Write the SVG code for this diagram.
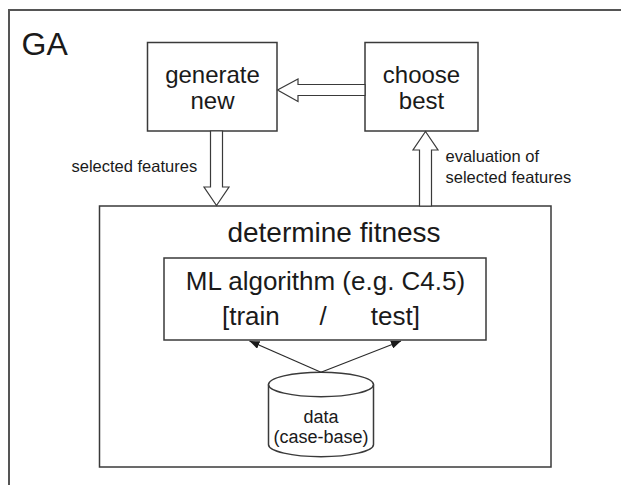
<svg xmlns="http://www.w3.org/2000/svg" width="621" height="485" viewBox="0 0 621 485">
<style>
.box{fill:#fff;stroke:#3a3a3a;stroke-width:1.5}
.blk{fill:#fff;stroke:#3a3a3a;stroke-width:1.2;stroke-linejoin:miter}
.t{font-family:"Liberation Sans",Arial,sans-serif;fill:#1a1a1a}
.c{text-anchor:middle}
.ln{stroke:#2a2a2a;stroke-width:1.1;fill:none}
</style>
<defs>
<marker id="ah" viewBox="0 0 10 8" refX="10" refY="4" markerWidth="10" markerHeight="8" markerUnits="userSpaceOnUse" orient="auto">
<path d="M0,0 L10,4 L0,8 Z" fill="#1a1a1a"/>
</marker>
</defs>
<rect width="621" height="485" fill="#fff"/>
<g id="frame">
<path d="M9,485 V10 H621" fill="none" stroke="#555" stroke-width="2"/>
<text class="t" x="21.5" y="55" font-size="32">GA</text>
</g>
<g id="generate">
<rect class="box" x="147.5" y="42.5" width="129.5" height="88.5"/>
<text class="t c" x="212.5" y="83" font-size="24">generate</text>
<text class="t c" x="212.5" y="109" font-size="24">new</text>
</g>
<g id="choose">
<rect class="box" x="365" y="42.5" width="113" height="88.5"/>
<text class="t c" x="421.5" y="83" font-size="24">choose</text>
<text class="t c" x="421.5" y="109" font-size="24">best</text>
</g>
<g id="fitness">
<rect class="box" x="99.5" y="206" width="451.5" height="261"/>
<text class="t c" x="334" y="242" font-size="28">determine fitness</text>
</g>
<g id="ml">
<rect class="box" x="164" y="258" width="322" height="82"/>
<text class="t c" x="325.5" y="290" font-size="26">ML algorithm (e.g. C4.5)</text>
<text class="t" x="222" y="325" font-size="26">[train</text>
<text class="t c" x="323" y="325" font-size="26">/</text>
<text class="t" x="420" y="325" font-size="26" text-anchor="end">test]</text>
</g>
<g id="data">
<path class="box" d="M268.5,384.5 V444.5 A52.5,12.2 0 0 0 373.5,444.5 V384.5"/>
<ellipse class="box" cx="321" cy="384.5" rx="52.5" ry="12.2"/>
<text class="t c" x="321" y="423" font-size="18">data</text>
<text class="t c" x="321" y="443" font-size="18">(case-base)</text>
</g>
<g id="connectors">
<polygon class="blk" points="365,84.5 298,84.5 298,79 277.5,90 298,101.5 298,95.5 365,95.5"/>
<polygon class="blk" points="210.5,131 210.5,187 204,187 216.5,205.5 229,187 222.5,187 222.5,131"/>
<polygon class="blk" points="419.5,206 419.5,150 413,150 425.5,131.5 438,150 431.5,150 431.5,206"/>
<line class="ln" x1="321" y1="372.3" x2="249.5" y2="341" marker-end="url(#ah)"/>
<line class="ln" x1="321" y1="372.3" x2="401" y2="341" marker-end="url(#ah)"/>
<text class="t" x="71.5" y="172" font-size="16.5">selected features</text>
<text class="t" x="445.5" y="161.5" font-size="16.5">evaluation of</text>
<text class="t" x="445.5" y="182.5" font-size="16.5">selected features</text>
</g>
</svg>
